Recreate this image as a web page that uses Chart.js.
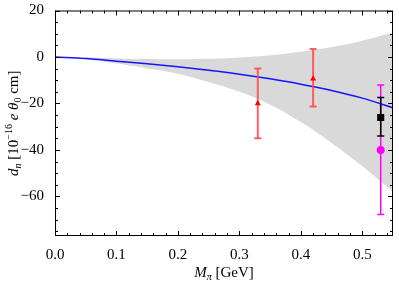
<!DOCTYPE html>
<html>
<head>
<meta charset="utf-8">
<script src="https://cdn.jsdelivr.net/npm/chart.js@4"></script>
<style>
  html, body { margin: 0; padding: 0; background: #fff; }
  #wrap { width: 399px; height: 282px; position: relative; }
</style>
</head>
<body>
<div id="wrap"><canvas id="graph" width="399" height="282"></canvas></div>
<script>
// curve and band
const mpi = [0, 0.05, 0.1, 0.15, 0.2, 0.25, 0.3, 0.35, 0.4, 0.45, 0.5, 0.55];
const dnCentral = [0, -0.7, -1.8, -2.9, -4.2, -5.7, -7.4, -9.4, -11.7, -14.4, -17.7, -21.8];
const bandUpper = [0, -0.2, -0.6, -0.9, -1.0, -0.8, -0.2, 0.8, 2.3, 4.3, 7, 10.5];
const bandLower = [0, -1, -2.8, -4.8, -7.2, -10.8, -15, -20.5, -28, -37, -47, -58];

// lattice points (red triangles)
const latX = [0.33, 0.42];
const latY = [-20, -9.4];
const latLo = [-35, -21.3];
const latHi = [-5, 3.4];

// black square
const blkX = [0.53];
const blkY = [-26];
const blkLo = [-34];
const blkHi = [-17.4];

// magenta circle
const magX = [0.53];
const magY = [-40];
const magLo = [-67.7];
const magHi = [-12];

const xTickLabels = ["0.0", "0.1", "0.2", "0.3", "0.4", "0.5"];
const yTickLabels = ["20", "0", "\u221220", "\u221240", "\u221260"];

const FONT = "'Liberation Serif', 'Times New Roman', serif";

function pts(xs, ys) {
  return xs.map((x, i) => ({ x: x, y: ys[i] }));
}

function errorBars(xs, lo, hi, color, w, ord) {
  return xs.map((x, i) => ({
    type: "line",
    data: [{ x: x, y: lo[i] }, { x: x, y: hi[i] }],
    borderColor: color,
    borderWidth: w,
    pointStyle: "line",
    pointRadius: 3.5,
    pointBorderColor: color,
    pointBorderWidth: w,
    fill: false,
    order: ord
  }));
}

const isMajor = (v, step) => Math.abs(v / step - Math.round(v / step)) < 1e-6;

// frame + inward ticks on all four sides
const framePlugin = {
  id: "frame",
  afterDraw(chart) {
    const { ctx, chartArea: a, scales } = chart;
    ctx.save();
    ctx.strokeStyle = "#000";
    ctx.lineWidth = 1;
    ctx.strokeRect(a.left + 0.5, a.top + 0.5, a.right - a.left - 1, a.bottom - a.top - 1);
    ctx.beginPath();
    scales.x.ticks.forEach(t => {
      const px = Math.round(scales.x.getPixelForValue(t.value)) + 0.5;
      const len = isMajor(t.value, 0.1) ? 5 : 3;
      ctx.moveTo(px, a.bottom); ctx.lineTo(px, a.bottom - len);
      ctx.moveTo(px, a.top); ctx.lineTo(px, a.top + len);
    });
    scales.y.ticks.forEach(t => {
      const py = Math.round(scales.y.getPixelForValue(t.value)) + 0.5;
      const len = isMajor(t.value, 20) ? 5 : 3;
      ctx.moveTo(a.left, py); ctx.lineTo(a.left + len, py);
      ctx.moveTo(a.right, py); ctx.lineTo(a.right - len, py);
    });
    ctx.stroke();
    ctx.restore();
  }
};

// draws pieces of text with italics / sub / superscripts
function drawPieces(ctx, pieces, cx, cy) {
  let total = 0;
  pieces.forEach(p => {
    ctx.font = (p.it ? "italic " : "") + p.size + "px " + FONT;
    p.w = ctx.measureText(p.t).width;
    total += p.w;
  });
  let x = cx - total / 2;
  pieces.forEach(p => {
    ctx.font = (p.it ? "italic " : "") + p.size + "px " + FONT;
    ctx.fillText(p.t, x, cy + (p.dy || 0));
    x += p.w;
  });
}

const titlePlugin = {
  id: "titles",
  afterDraw(chart) {
    const { ctx, chartArea: a } = chart;
    ctx.save();
    ctx.fillStyle = "#000";
    ctx.textBaseline = "alphabetic";
    drawPieces(ctx, [
      { t: "M", it: true, size: 15 },
      { t: "\u03c0", it: true, size: 10, dy: 3 },
      { t: " [GeV]", size: 15 }
    ], (a.left + a.right) / 2, 277);
    ctx.translate(18, (a.top + a.bottom) / 2);
    ctx.rotate(-Math.PI / 2);
    drawPieces(ctx, [
      { t: "d", it: true, size: 15 },
      { t: "n", it: true, size: 10, dy: 3 },
      { t: " [10", size: 15 },
      { t: "\u221216", size: 10, dy: -6 },
      { t: " ", size: 15 },
      { t: "e", it: true, size: 15 },
      { t: " ", size: 15 },
      { t: "\u03b8", it: true, size: 15 },
      { t: "0", size: 10, dy: 3 },
      { t: " cm]", size: 15 }
    ], 0, 0);
    ctx.restore();
  }
};

const ctx = document.getElementById("graph").getContext("2d");
new Chart(ctx, {
  type: "line",
  data: {
    datasets: [
      {
        data: pts(mpi, bandUpper),
        borderWidth: 0,
        borderColor: "rgba(0,0,0,0)",
        pointRadius: 0,
        tension: 0.4,
        fill: false,
        order: 10
      },
      {
        data: pts(mpi, bandLower),
        borderWidth: 0,
        borderColor: "rgba(0,0,0,0)",
        backgroundColor: "rgb(217,217,217)",
        pointRadius: 0,
        tension: 0.4,
        fill: 0,
        order: 10
      },
      {
        data: pts(mpi, dnCentral),
        borderColor: "#1414ff",
        borderWidth: 1.5,
        pointRadius: 0,
        cubicInterpolationMode: "monotone",
        fill: false,
        order: 5
      },
      ...errorBars(magX, magLo, magHi, "#ff00ff", 1.5, 4),
      ...errorBars(latX, latLo, latHi, "rgba(255,70,70,0.85)", 2, 3),
      ...errorBars(blkX, blkLo, blkHi, "#000", 1.5, 3),
      {
        type: "scatter",
        data: pts(latX, latY),
        pointStyle: "triangle",
        pointRadius: 3.5,
        backgroundColor: "#ff0000",
        borderColor: "#ff0000",
        borderWidth: 0,
        order: 1
      },
      {
        type: "scatter",
        data: pts(magX, magY),
        pointStyle: "circle",
        pointRadius: 4,
        backgroundColor: "#ff00ff",
        borderColor: "#ff00ff",
        borderWidth: 0,
        order: 2
      },
      {
        type: "scatter",
        data: pts(blkX, blkY),
        pointStyle: "rect",
        pointRadius: 5,
        backgroundColor: "#000",
        borderColor: "#000",
        borderWidth: 0,
        order: 1
      }
    ]
  },
  options: {
    responsive: false,
    animation: false,
    layout: { padding: { top: 9, right: 1, left: 0, bottom: 0 } },
    plugins: {
      legend: { display: false },
      tooltip: { enabled: false }
    },
    scales: {
      x: {
        type: "linear",
        min: 0,
        max: 0.55,
        grid: { display: false },
        border: { display: false },
        afterFit(s) { s.height = 46; },
        ticks: {
          stepSize: 0.02,
          includeBounds: false,
          autoSkip: false,
          maxRotation: 0,
          padding: 2,
          color: "#000",
          font: { family: FONT, size: 15 },
          callback: v => isMajor(v, 0.1) ? xTickLabels[Math.round(v / 0.1)] : ""
        }
      },
      y: {
        type: "linear",
        min: -77,
        max: 20,
        grid: { display: false },
        border: { display: false },
        afterFit(s) { s.width = 55; },
        ticks: {
          stepSize: 5,
          includeBounds: false,
          autoSkip: false,
          padding: 3,
          color: "#000",
          font: { family: FONT, size: 15, lineHeight: 1 },
          callback: v => isMajor(v, 20) ? yTickLabels[Math.round((20 - v) / 20)] : ""
        }
      }
    }
  },
  plugins: [framePlugin, titlePlugin]
});
</script>
</body>
</html>
